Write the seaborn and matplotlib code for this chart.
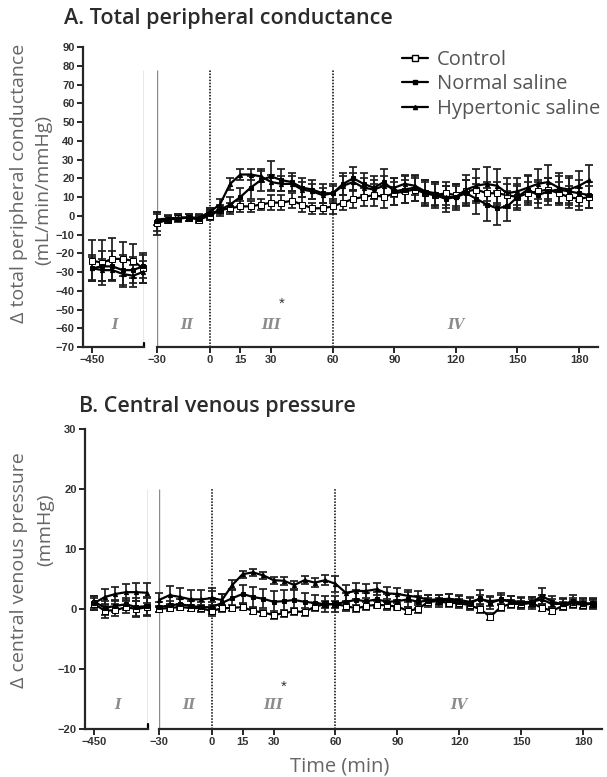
import numpy as np
import pandas as pd
import seaborn as sns
import matplotlib
matplotlib.use("Agg")
import matplotlib.pyplot as plt
from matplotlib.lines import Line2D

sns.set_style("ticks")
plt.rcParams["font.family"] = ["Liberation Sans", "DejaVu Sans"]

# ---- time points ----
t_base = [-450, -445, -440, -435, -430, -425]          # segment I (baseline)
t_pre = [-30, -24, -18, -12, -6, 0]                    # segment II
t_main = list(range(0, 190, 5))                        # segments III + IV

groups = ["Control", "Normal saline", "Hypertonic saline"]

# ---- A. total peripheral conductance (mL/min/mmHg) ----
a_base = {
    "Control": [-24, -25, -23, -23, -24, -28],
    "Normal saline": [-28, -27, -27, -29, -29, -27],
    "Hypertonic saline": [-28, -29, -29, -31, -32, -30],
}
a_base_err = {
    "Control": [11, 12, 11, 9, 9, 8],
    "Normal saline": [7, 8, 8, 8, 7, 6],
    "Hypertonic saline": [6, 6, 5, 7, 6, 6],
}
a_pre = {
    "Control": [-4, -2, -1, -1, -2, 0],
    "Normal saline": [-3, -2, -1.5, -1, -1.5, 1],
    "Hypertonic saline": [-2, -1.5, -1, -1, -1, 2],
}
a_pre_err = {
    "Control": [6, 2, 2, 2, 2, 2],
    "Normal saline": [5, 2, 2, 2, 2, 2],
    "Hypertonic saline": [3, 2, 2, 2, 2, 2],
}
a_main = {
    "Control": [0, 3, 4, 5, 5, 6, 7, 7, 8, 6, 4, 4, 5, 7, 9, 10, 11, 10, 12, 13,
                14, 12, 11, 12, 11, 13, 14, 12, 12, 11, 10, 12, 13, 14, 12, 10, 9, 10],
    "Normal saline": [1, 3, 6, 10, 15, 19, 21, 19, 18, 15, 14, 12, 12, 17, 20, 17, 15, 18, 13, 14,
                      15, 12, 11, 9, 10, 12, 9, 6, 4, 5, 10, 14, 11, 13, 14, 13, 12, 11],
    "Hypertonic saline": [2, 6, 17, 22, 22, 21, 18, 17, 17, 14, 13, 11, 12, 16, 18, 15, 14, 16, 15, 17,
                          16, 13, 12, 10, 10, 14, 16, 17, 16, 12, 13, 15, 17, 18, 15, 14, 16, 19],
}
a_main_err = {
    "Control": [2, 2, 3, 3, 3, 3, 4, 4, 4, 4, 3, 3, 4, 4, 5, 5, 6, 6, 6, 6,
                6, 6, 6, 6, 6, 6, 6, 6, 6, 6, 6, 6, 6, 6, 6, 6, 6, 6],
    "Normal saline": [2, 3, 4, 5, 6, 6, 8, 6, 5, 5, 5, 5, 5, 6, 6, 6, 6, 7, 7, 7,
                      7, 7, 7, 7, 7, 7, 8, 9, 9, 8, 7, 7, 7, 7, 7, 7, 7, 7],
    "Hypertonic saline": [2, 3, 3, 3, 3, 3, 4, 4, 4, 4, 4, 4, 4, 5, 5, 5, 5, 5, 5, 5,
                          5, 6, 6, 6, 6, 8, 9, 9, 9, 8, 7, 7, 8, 9, 8, 7, 8, 8],
}

# ---- B. central venous pressure (mmHg) ----
b_base = {
    "Control": [0.8, -0.3, -0.2, 0.3, 0.0, 0.3],
    "Normal saline": [1.2, 0.2, 0.5, 0.8, 0.3, 0.5],
    "Hypertonic saline": [1.0, 2.0, 2.5, 2.8, 2.8, 2.7],
}
b_base_err = {
    "Control": [1.0, 1.2, 1.0, 1.0, 1.3, 1.5],
    "Normal saline": [1.0, 1.2, 1.0, 1.0, 1.5, 1.5],
    "Hypertonic saline": [1.2, 1.3, 1.2, 1.3, 1.5, 1.7],
}
b_pre = {
    "Control": [0.0, 0.2, 0.3, 0.2, 0.1, -0.3],
    "Normal saline": [0.3, 0.6, 0.8, 0.5, 0.3, 0.3],
    "Hypertonic saline": [1.5, 2.3, 2.0, 1.6, 1.6, 1.8],
}
b_pre_err = {
    "Control": [0.5, 0.5, 0.5, 0.5, 0.5, 0.5],
    "Normal saline": [0.8, 0.8, 0.8, 0.8, 0.8, 0.8],
    "Hypertonic saline": [1.2, 1.5, 1.5, 1.5, 1.5, 1.7],
}
b_main = {
    "Control": [-0.3, 0.1, 0.2, 0.3, -0.3, -0.6, -1.0, -0.7, -0.4, -0.5, 0.4, 0.8, 0.8, 0.5, 0.1, 0.5,
                0.7, 0.6, 0.4, -0.3, 0.0, 1.2, 1.3, 1.0, 1.0, 0.6, 0.0, -1.3, 0.3, 0.9, 0.8, 1.0,
                0.2, -0.3, 0.5, 0.9, 0.7, 0.9],
    "Normal saline": [0.3, 1.0, 1.8, 2.5, 2.0, 1.7, 1.2, 1.3, 1.5, 1.2, 1.0, 0.8, 0.8, 1.2, 1.5, 1.3,
                      1.6, 1.2, 1.3, 1.6, 1.2, 1.4, 1.3, 1.5, 1.2, 0.9, 1.8, 1.0, 1.6, 1.2, 1.0, 1.0,
                      2.2, 1.2, 0.8, 1.3, 1.0, 0.8],
    "Hypertonic saline": [1.8, 1.5, 4.0, 5.8, 6.1, 5.6, 4.8, 4.7, 4.0, 4.8, 4.4, 4.8, 4.2, 2.7, 3.0, 3.0,
                          3.3, 2.6, 2.5, 2.2, 2.0, 1.5, 1.6, 1.7, 1.5, 1.2, 1.6, 1.3, 1.5, 1.4, 1.1, 1.2,
                          1.6, 0.8, 0.9, 1.0, 0.8, 1.0],
}
b_main_err = {
    "Control": [0.5] * 6 + [0.6] * 32,
    "Normal saline": [1.5, 1.5, 1.6, 1.5, 1.6, 1.6, 1.8, 1.8, 1.6, 1.5, 1.3, 1.3, 1.3, 1.5, 1.6, 1.3,
                      1.3, 1.3, 1.2, 1.2, 1.0, 1.0, 1.0, 1.0, 1.0, 1.0, 1.4, 1.0, 1.0, 1.0, 1.0, 1.0,
                      1.3, 1.0, 1.0, 1.0, 0.8, 0.8],
    "Hypertonic saline": [1.2, 1.0, 0.8, 0.6, 0.6, 0.6, 0.6, 0.7, 0.7, 0.7, 0.7, 0.8, 1.3, 1.3, 1.3, 1.2,
                          1.0, 1.0, 1.0, 1.0, 1.0, 0.8, 0.8, 0.8, 0.8, 0.8, 0.8, 0.8, 0.8, 0.8, 0.8, 0.8,
                          0.8, 0.8, 0.8, 0.8, 0.8, 0.8],
}

styles = {
    "Control": dict(marker="s", markersize=4, markerfacecolor="white", markeredgecolor="black"),
    "Normal saline": dict(marker="s", markersize=3.5, markerfacecolor="black", markeredgecolor="black"),
    "Hypertonic saline": dict(marker="^", markersize=3, markerfacecolor="black", markeredgecolor="black"),
}

K = 0.85  # compression of the pre-infusion segment


def fwd(x):
    x = np.asarray(x, dtype=float)
    return np.where(x < 0, x * K, x)


def inv(x):
    x = np.asarray(x, dtype=float)
    return np.where(x < 0, x / K, x)


def draw_series(ax, t, vals, errs):
    for g in groups:
        ax.errorbar(t, vals[g], yerr=errs[g], fmt="none", ecolor="#1e1e1e",
                    elinewidth=1.25, capsize=3.2, capthick=1.25, zorder=2, clip_on=False)
        sns.lineplot(x=t, y=vals[g], ax=ax, color="black", linewidth=1.6, errorbar=None,
                     zorder=3, clip_on=False, **styles[g])


def draw_panel(fig, rect1, rect2, ylim, yticks, base, base_err, pre, pre_err, main, main_err,
               line_top, label_y, star_y, title, title_xy, ylabels, ylabel_pos):
    ax1 = fig.add_axes(rect1)
    ax2 = fig.add_axes(rect2, sharey=ax1)

    draw_series(ax1, t_base, base, base_err)
    ax2.set_xscale("function", functions=(fwd, inv))
    draw_series(ax2, t_pre, pre, pre_err)
    draw_series(ax2, t_main, main, main_err)

    ax1.set_xlim(-454.5, -424.5)
    ax2.set_xlim(-30, 189.2)
    ax1.set_ylim(*ylim)
    ax1.set_yticks(yticks)
    ax1.set_xticks([-450])
    ax2.set_xticks([-30, 0, 15, 30, 60, 90, 120, 150, 180])
    ax1.minorticks_off()
    ax2.minorticks_off()

    for ax in (ax1, ax2):
        for s in ("top", "right"):
            ax.spines[s].set_visible(False)
        ax.spines["bottom"].set_linewidth(1.6)
        ax.tick_params(axis="both", direction="out", length=4, width=1.4,
                       labelsize=8, labelcolor="#333333", pad=2)
        for lab in ax.get_xticklabels() + ax.get_yticklabels():
            lab.set_fontweight("bold")
        ax.set_xlabel("")
        ax.set_ylabel("")
        ax.set_facecolor("none")
    ax1.spines["left"].set_linewidth(1.6)
    ax2.spines["left"].set_visible(False)
    ax2.tick_params(axis="y", left=False, labelleft=False)

    # segment ends of the broken axis
    ax1.plot([-424.5, -424.5], [ylim[0], ylim[0] + (ylim[1] - ylim[0]) * 0.015],
             color="black", lw=1.6, clip_on=False)
    ax1.vlines(-424.5, ylim[0], line_top, color="#8a8a8a", lw=1.0, zorder=1)
    ax2.vlines(-30, ylim[0], line_top, color="#8a8a8a", lw=1.0, zorder=1)
    ax2.vlines([0, 60], ylim[0], line_top, color="black", lw=1.1, linestyles=(0, (1, 1)), zorder=1)

    # period labels
    rom = dict(fontfamily="DejaVu Serif", fontstyle="italic", fontweight="bold",
               fontsize=10, color="#8c8c8c", ha="center", va="center")
    ax1.text(-439, label_y, "I", **rom)
    ax2.text(-13, label_y, "II", **rom)
    ax2.text(30, label_y, "III", **rom)
    ax2.text(120, label_y, "IV", **rom)
    ax2.text(35, star_y, "*", ha="center", va="center", fontsize=11, color="#333333")

    fig.text(title_xy[0], title_xy[1], title, fontfamily="Open Sans", fontweight="semibold",
             fontsize=15.5, color="#2b2b2b", va="center", ha="left")
    for text, (x, y) in zip(ylabels, ylabel_pos):
        fig.text(x, y, text, rotation=90, fontfamily="Open Sans", fontsize=14,
                 color="#666666", ha="center", va="center")
    return ax1, ax2


fig = plt.figure(figsize=(6.07, 7.77), dpi=100)

draw_panel(fig, [0.1367, 0.5534, 0.1005, 0.3861], [0.2591, 0.5534, 0.726, 0.3861],
           (-70, 90), list(range(-70, 91, 10)), a_base, a_base_err, a_pre, a_pre_err,
           a_main, a_main_err, 78, -58, -47, "A. Total peripheral conductance", (0.105, 0.976),
           ["\u0394 total peripheral conductance", "(mL/min/mmHg)"], [(0.032, 0.764), (0.072, 0.756)])

draw_panel(fig, [0.140, 0.0618, 0.1038, 0.3861], [0.262, 0.0618, 0.730, 0.3861],
           (-20, 30), list(range(-20, 31, 10)), b_base, b_base_err, b_pre, b_pre_err,
           b_main, b_main_err, 20, -16, -13, "B. Central venous pressure", (0.13, 0.477),
           ["\u0394 central venous pressure", "(mmHg)"], [(0.032, 0.266), (0.075, 0.318)])

fig.text(0.559, 0.013, "Time (min)", fontfamily="Open Sans", fontsize=14.5, color="#666666",
         ha="center", va="center")

handles = [Line2D([0], [0], color="black", lw=1.6, **styles[g]) for g in groups]
fig.legend(handles, groups, loc="upper left", bbox_to_anchor=(0.662, 0.936), frameon=False,
           prop={"family": "Open Sans", "size": 14.5}, labelcolor="#555555", handlelength=1.3,
           handletextpad=0.45, labelspacing=0.22, borderaxespad=0, borderpad=0)

fig.savefig("out.png", dpi=100)
